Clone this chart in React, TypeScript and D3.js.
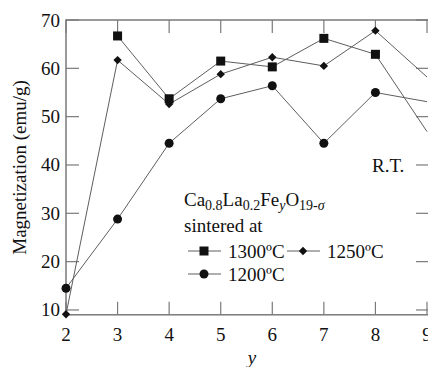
import React, { useRef, useEffect } from 'react';
import * as d3 from 'd3';

// x values (Fe content y) and magnetization series
const yContent = [2, 3, 4, 5, 6, 7, 8, 9];
const mag1300 = [null, 66.7, 53.7, 61.5, 60.3, 66.2, 62.9, 46.9];
const mag1250 = [9.1, 61.7, 52.6, 58.8, 62.3, 60.5, 67.8, 58.2];
const mag1200 = [14.5, 28.8, 44.5, 53.7, 56.4, 44.5, 55.0, 53.1];

const xTicks = [2, 3, 4, 5, 6, 7, 8, 9];
const yTicks = [10, 20, 30, 40, 50, 60, 70];

const seriesNames = ['1300\u00BAC', '1250\u00BAC', '1200\u00BAC'];

export default function App() {
  const svgRef = useRef<SVGSVGElement>(null);

  useEffect(() => {
    const svg = d3.select(svgRef.current);
    svg.selectAll('*').remove();

    const w = 428;
    const h = 367;
    const font = 'Liberation Serif';
    const axisColor = '#7a7a7a';
    const lineColor = '#5e5e5e';
    const ink = '#111';

    // plot frame: 2 -> 66px, 9 -> 427px ; 70 -> 20px, 9 -> 314.8px
    const x = d3.scaleLinear().domain([2, 9]).range([66, 427]);
    const y = d3.scaleLinear().domain([9, 70]).range([314.8, 20]);
    const right = 429;

    svg.attr('width', w).attr('height', h);

    const txt = (g, tx, ty, s) => g.append('text')
      .attr('x', tx).attr('y', ty)
      .style('font-family', font)
      .attr('font-size', 19)
      .attr('fill', ink)
      .text(s);

    // frame
    svg.append('rect')
      .attr('x', x(2)).attr('y', y(70))
      .attr('width', right - x(2)).attr('height', y(9) - y(70))
      .attr('fill', 'none')
      .attr('stroke', axisColor)
      .attr('stroke-width', 1.5);

    // x ticks (inward, top and bottom)
    const tickLen = 13;
    xTicks.forEach(t => {
      svg.append('line')
        .attr('x1', x(t)).attr('x2', x(t))
        .attr('y1', y(9)).attr('y2', y(9) - tickLen)
        .attr('stroke', axisColor).attr('stroke-width', 1.2);
      svg.append('line')
        .attr('x1', x(t)).attr('x2', x(t))
        .attr('y1', y(70)).attr('y2', y(70) + tickLen)
        .attr('stroke', axisColor).attr('stroke-width', 1.2);
      txt(svg, x(t), 341, t).attr('text-anchor', 'middle');
    });

    // y ticks (inward, left and right)
    yTicks.forEach(t => {
      svg.append('line')
        .attr('x1', x(2)).attr('x2', x(2) + tickLen)
        .attr('y1', y(t)).attr('y2', y(t))
        .attr('stroke', axisColor).attr('stroke-width', 1.2);
      svg.append('line')
        .attr('x1', right).attr('x2', right - tickLen)
        .attr('y1', y(t)).attr('y2', y(t))
        .attr('stroke', axisColor).attr('stroke-width', 1.2);
      txt(svg, 60, y(t) + 6.5, t).attr('text-anchor', 'end');
    });

    // axis titles
    txt(svg, 0, 0, 'Magnetization (emu/g)')
      .attr('transform', `translate(26, ${(y(70) + y(9)) / 2}) rotate(-90)`)
      .attr('text-anchor', 'middle');

    txt(svg, 252, 364, 'y')
      .attr('text-anchor', 'middle')
      .attr('font-style', 'italic');

    // markers
    const square = (g, cx, cy) => g.append('rect')
      .attr('x', cx - 4.5).attr('y', cy - 4.5)
      .attr('width', 9).attr('height', 9)
      .attr('fill', ink);
    const circle = (g, cx, cy) => g.append('circle')
      .attr('cx', cx).attr('cy', cy).attr('r', 4.5)
      .attr('fill', ink);
    const diamond = (g, cx, cy) => g.append('path')
      .attr('d', `M${cx},${cy - 4.2}L${cx + 4.2},${cy}L${cx},${cy + 4.2}L${cx - 4.2},${cy}Z`)
      .attr('fill', ink);

    const line = d3.line<any>()
      .defined(d => d[1] != null)
      .x(d => x(d[0]))
      .y(d => y(d[1]));

    const series = [
      { vals: mag1300, mark: square },
      { vals: mag1250, mark: diamond },
      { vals: mag1200, mark: circle },
    ];

    series.forEach(s => {
      const pts = yContent.map((v, i) => [v, s.vals[i]]);
      svg.append('path')
        .datum(pts)
        .attr('fill', 'none')
        .attr('stroke', lineColor)
        .attr('stroke-width', 1)
        .attr('d', line);
    });
    series.forEach(s => {
      // last point sits past the cropped right edge, so no marker there
      yContent.forEach((v, i) => {
        if (s.vals[i] == null || v >= 9) return;
        s.mark(svg, x(v), y(s.vals[i]));
      });
    });

    // R.T. label
    txt(svg, 372, 172, 'R.T.');

    // legend
    const lg = svg.append('g');
    const title = txt(lg, 184, 206, '');
    const part = (s, sub = false, italic = false) => {
      const ts = title.append('tspan')
        .attr('font-size', sub ? 14 : 19)
        .attr('baseline-shift', sub ? '-25%' : '0')
        .text(s);
      if (italic) ts.attr('font-style', 'italic');
    };
    part('Ca'); part('0.8', true); part('La'); part('0.2', true);
    part('Fe'); part('y', true, true); part('O'); part('19-', true); part('\u03C3', true, true);

    txt(lg, 184, 232, 'sintered at');

    const entries = [
      { x0: 188, cy: 251, mark: square, label: seriesNames[0] },
      { x0: 287, cy: 251, mark: diamond, label: seriesNames[1] },
      { x0: 188, cy: 274, mark: circle, label: seriesNames[2] },
    ];
    entries.forEach(e => {
      lg.append('line')
        .attr('x1', e.x0).attr('x2', e.x0 + 33)
        .attr('y1', e.cy).attr('y2', e.cy)
        .attr('stroke', lineColor).attr('stroke-width', 1);
      e.mark(lg, e.x0 + 16, e.cy);
      txt(lg, e.x0 + 40, e.cy + 6.5, e.label);
    });
  }, []);

  return (
    <div>
      <svg ref={svgRef} style={{ position: 'absolute', left: 0, top: 0 }}></svg>
    </div>
  );
}
